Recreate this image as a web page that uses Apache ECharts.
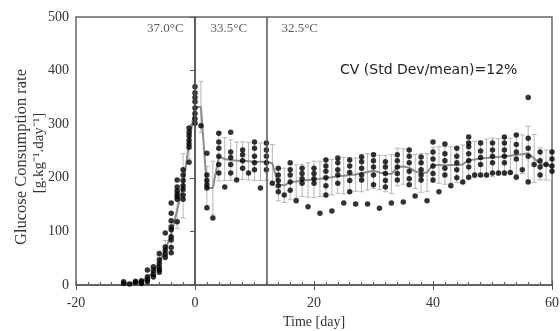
<!DOCTYPE html>
<html>
<head>
<meta charset="utf-8">
<script src="https://cdn.jsdelivr.net/npm/echarts@6/dist/echarts.min.js"></script>
<style>html,body{margin:0;padding:0;background:#fff}#c{width:560px;height:331px}</style>
</head>
<body>
<div id="c"></div>
<script>
// Mean glucose consumption rate per day (gray line) and standard deviation (error bars)
const meanDays = [-12,-11,-10,-9,-8,-7,-6,-5,-4,-3,-2,-1,0,1,2,3,4,5,6,7,8,9,10,11,12,13,14,15,16,17,18,19,20,21,22,23,24,25,26,27,28,29,30,31,32,33,34,35,36,37,38,39,40,41,42,43,44,45,46,47,48,49,50,51,52,53,54,55,56,57,58,59,60];
const meanValues = [4,3,5,6,14,24,42,65,95,140,185,265,332,332,181,181,239,235,233,232,232,231,230,230,230,227,187,186,192,193,195,196,197,198,200,201,203,204,205,206,209,211,213,210,208,207,220,221,219,212,209,210,224,224,223,224,224,225,233,234,236,237,238,239,240,241,243,244,246,236,226,224,223];
const meanSd = [2,2,3,3,6,8,12,18,22,35,60,30,30,48,40,50,45,40,38,35,35,35,35,35,35,35,30,32,33,31,30,32,34,33,35,33,32,34,33,31,35,34,33,32,34,36,35,33,34,32,36,35,33,34,35,34,33,36,35,34,33,35,36,34,35,33,37,36,50,45,30,28,28];

// Individual measurements (black dots), grouped by day
const scatterDays = [-12,-11,-10,-9,-8,-7,-6,-5,-4,-3,-2,-1,0,1,2,3,4,5,6,7,8,9,10,11,12,13,14,15,16,17,18,19,20,21,22,23,24,25,26,27,28,29,30,31,32,33,34,35,36,37,38,39,40,41,42,43,44,45,46,47,48,49,50,51,52,53,54,55,56,57,58,59,60];
const scatterGroups = [
  [6,3],[2],[7,4],[8,5,3],[28,15,10,6],[34,27,20,15],[59,47,40,33,28,24],[97,71,65,58,52],
  [153,134,120,108,103,90,84,70,60],[196,183,176,170,165,160,118],[215,205,195,185,178,168,160],
  [293,285,278,270,263,257,229],[370,358,350,342,330,320,310,302],[297],[246,205,195,187,181,144],[125],
  [283,267,255,240,225,209],[183],[285,248,238,225,209],[196],[252,243,232,218],[209],[267,255,240,228,215],[181],
  [265,252,240,228,215],[190],[218,205,195,185,174],[168],[228,215,205,192,177],[157],[218,208,198,190],[146],
  [218,208,198,190],[134],[233,222,212,200,185,168],[138],[237,228,215,205,190],[153],[233,222,210,195,174],[151],
  [239,230,218,205,196],[151],[243,232,220,205,187],[143],[230,220,208,195,183],[153],[243,232,220,208,196],[155],
  [252,240,228,212,198,187],[166],[239,228,215,205,196],[157],[267,248,235,222,208,196],[174],[263,245,232,218,205],[185],
  [255,240,228,215,200],[192],[276,265,258,245,232,220,201],[205],[265,250,238,225,205],[205],[265,252,240,228,209],[209],
  [276,265,252,240,228,209],[210],[280,262,248,235,201],[215],[350,274,255,240,192],[225],[248,232,220,205],[225],[248,235,222,212]
];

// Temperature phases
const shiftDays = [0, 12];
const zoneLabels = ['37.0°C', '33.5°C', '32.5°C'];
const zoneLabelDays = [-5, 5.7, 17.6];
const zoneLabelValue = 479;

const xTicks = [-20, 0, 20, 40, 60];
const yTicks = [0, 100, 200, 300, 400, 500];

const scatterData = [];
scatterDays.forEach((d, i) => scatterGroups[i].forEach(v => scatterData.push([d, v])));
const meanData = meanDays.map((d, i) => [d, meanValues[i]]);
const errData = meanDays.map((d, i) => [d, meanValues[i] - meanSd[i], meanValues[i] + meanSd[i]]);
const labelData = zoneLabels.map((t, i) => ({ value: [zoneLabelDays[i], zoneLabelValue], name: t }));

const serif = 'Liberation Serif';
const chart = echarts.init(document.getElementById('c'), null, { renderer: 'canvas' });
chart.setOption({
  animation: false,
  backgroundColor: '#fff',
  grid: { left: 76, right: 8, top: 17, bottom: 46, containLabel: false, outerBoundsMode: 'none', show: true, borderColor: '#666', borderWidth: 1.5, backgroundColor: 'transparent' },
  xAxis: [{
    type: 'value', min: xTicks[0], max: xTicks[xTicks.length - 1], interval: 20,
    axisLine: { show: true, lineStyle: { color: '#555', width: 1.5 } },
    axisTick: { show: true, inside: false, length: 5, lineStyle: { color: '#555' } },
    minorTick: { show: false },
    splitLine: { show: false },
    axisLabel: { color: '#333', fontFamily: serif, fontSize: 14, margin: 11 },
    name: 'Time [day]', nameLocation: 'middle', nameGap: 30,
    nameTextStyle: { color: '#333', fontFamily: serif, fontSize: 14 }
  }, {
    type: 'value', position: 'bottom', min: xTicks[0], max: xTicks[xTicks.length - 1], interval: 20,
    axisLine: { show: false },
    axisTick: { show: true, inside: true, length: 4, lineStyle: { color: '#555' } },
    minorTick: { show: true, splitNumber: 10, length: 3, lineStyle: { color: '#666', width: 1.2 } },
    splitLine: { show: false },
    axisLabel: { show: false }
  }],
  yAxis: {
    type: 'value', min: yTicks[0], max: yTicks[yTicks.length - 1], interval: 100,
    axisLine: { show: true, lineStyle: { color: '#555', width: 1.5 } },
    axisTick: { show: true, inside: false, length: 5, lineStyle: { color: '#555' } },
    splitLine: { show: false },
    axisLabel: { color: '#333', fontFamily: serif, fontSize: 14, margin: 7 }
  },
  graphic: [
    { type: 'text', x: 22, y: 157, rotation: Math.PI / 2, style: { text: 'Glucose Consumption rate', fontFamily: serif, fontSize: 16.5, fill: '#333', align: 'center', verticalAlign: 'middle' } },
    { type: 'text', x: 39, y: 153, rotation: Math.PI / 2, style: { text: '[g.kg⁻¹.day⁻¹]', fontFamily: serif, fontSize: 15, fill: '#333', align: 'center', verticalAlign: 'middle' } },
    { type: 'text', x: 340, y: 70, style: { text: 'CV (Std Dev/mean)=12%', fontFamily: 'DejaVu Sans', fontSize: 14, fill: '#222', align: 'left', verticalAlign: 'middle' } }
  ],
  series: [
    {
      type: 'custom', name: 'sd', z: 2, clip: true,
      data: errData,
      encode: { x: 0, y: [1, 2] },
      renderItem: function (params, api) {
        const x = api.value(0);
        const lo = api.coord([x, api.value(1)]);
        const hi = api.coord([x, api.value(2)]);
        const w = 2.5;
        const st = { stroke: '#b5b5b5', lineWidth: 1 };
        return {
          type: 'group', children: [
            { type: 'line', shape: { x1: lo[0], y1: lo[1], x2: hi[0], y2: hi[1] }, style: st },
            { type: 'line', shape: { x1: lo[0] - w, y1: lo[1], x2: lo[0] + w, y2: lo[1] }, style: st },
            { type: 'line', shape: { x1: hi[0] - w, y1: hi[1], x2: hi[0] + w, y2: hi[1] }, style: st }
          ]
        };
      }
    },
    {
      type: 'line', name: 'mean', z: 3, data: meanData, showSymbol: false, symbol: 'none',
      lineStyle: { color: '#8c8c8c', width: 2 },
      markLine: {
        silent: true, symbol: 'none', label: { show: false },
        lineStyle: { color: '#555', width: 1.5, type: 'solid' },
        data: shiftDays.map(d => ({ xAxis: d }))
      }
    },
    {
      type: 'scatter', name: 'points', z: 4, data: scatterData, symbol: 'circle', symbolSize: 5.5,
      itemStyle: { color: '#000' }, clip: false
    },
    {
      type: 'scatter', name: 'labels', z: 5, data: labelData, symbolSize: 0,
      label: { show: true, position: 'inside', formatter: p => p.name, fontFamily: serif, fontSize: 13, color: '#333' }
    }
  ]
});
</script>
</body>
</html>
